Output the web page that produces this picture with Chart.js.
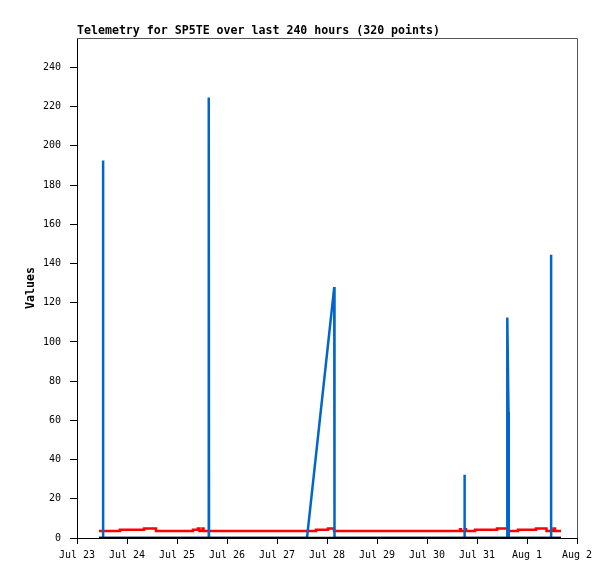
<!DOCTYPE html>
<html>
<head>
<meta charset="utf-8">
<script src="https://cdn.jsdelivr.net/npm/chart.js@4/dist/chart.umd.min.js"></script>
<style>
  body { margin: 0; background: #fff; }
</style>
</head>
<body>
<canvas id="telemetryChart" width="615" height="579"></canvas>
<script>
// x values are days since Jul 23 00:00
const dayLabels = ['Jul 23', 'Jul 24', 'Jul 25', 'Jul 26', 'Jul 27', 'Jul 28',
                   'Jul 29', 'Jul 30', 'Jul 31', 'Aug 1', 'Aug 2'];
const yTicks = [0, 20, 40, 60, 80, 100, 120, 140, 160, 180, 200, 220, 240];

const blueDays   = [0.44, 0.52, 0.52, 0.525, 2.635, 2.635, 2.64, 4.60, 5.145, 5.15,
                    7.75, 7.75, 7.755, 8.606, 8.606, 8.63, 8.635, 9.48, 9.48, 9.485, 9.68];
const blueValues = [0, 0, 192.5, 0, 0, 224.7, 0, 0, 128, 0,
                    0, 32.2, 0, 0, 112.4, 64.2, 0, 0, 144.5, 0, 0];

const redDays   = [0.44, 0.86, 1.34, 1.58, 2.32, 2.42, 2.45, 2.51, 2.53, 4.78, 5.02, 5.14,
                   7.66, 7.68, 7.76, 7.78, 7.96, 8.40, 8.62, 8.82, 9.18, 9.39, 9.53, 9.56, 9.68];
const redValues = [3.6, 4.2, 4.8, 3.6, 4.2, 4.8, 3.6, 4.8, 3.6, 4.2, 4.8, 3.6,
                   4.4, 3.6, 4.4, 3.6, 4.2, 4.8, 3.6, 4.2, 4.8, 3.6, 4.8, 3.6, 3.6];

const zeroDays   = [0.44, 9.68];
const zeroValues = [0, 0];

const toPoints = (xs, ys) => xs.map((x, i) => ({ x: x, y: ys[i] }));

const monoFont = 'DejaVu Sans Mono';

// title + grey top/right frame
const framePlugin = {
    id: 'frame',
    afterDraw(chart) {
        const { ctx, chartArea } = chart;
        ctx.save();
        ctx.strokeStyle = '#555';
        ctx.lineWidth = 1;
        ctx.beginPath();
        ctx.moveTo(chartArea.left, chartArea.top + 0.5);
        ctx.lineTo(chartArea.right + 0.5, chartArea.top + 0.5);
        ctx.lineTo(chartArea.right + 0.5, chartArea.bottom);
        ctx.stroke();
        ctx.fillStyle = '#000';
        ctx.font = 'bold 11.6px "' + monoFont + '"';
        ctx.textAlign = 'left';
        ctx.textBaseline = 'alphabetic';
        ctx.fillText('Telemetry for SP5TE over last 240 hours (320 points)', chartArea.left, chartArea.top - 4);
        ctx.restore();
    }
};

const ctx = document.getElementById('telemetryChart').getContext('2d');
new Chart(ctx, {
    type: 'line',
    data: {
        datasets: [
            {
                data: toPoints(zeroDays, zeroValues),
                borderColor: '#000',
                borderWidth: 2.5,
                pointRadius: 0,
                order: 0
            },
            {
                data: toPoints(blueDays, blueValues),
                borderColor: '#0066cc',
                borderWidth: 2.5,
                borderJoinStyle: 'bevel',
                pointRadius: 0,
                order: 1
            },
            {
                data: toPoints(redDays, redValues),
                borderColor: '#ff0000',
                borderWidth: 2.5,
                stepped: true,
                pointRadius: 0,
                order: 2
            }
        ]
    },
    options: {
        responsive: false,
        animation: false,
        devicePixelRatio: 1,
        layout: { padding: { top: 38, right: 38, bottom: 0, left: 0 } },
        plugins: {
            legend: { display: false },
            tooltip: { enabled: false },
            title: { display: false }
        },
        scales: {
            x: {
                type: 'linear',
                min: 0,
                max: 10,
                afterBuildTicks: s => { s.ticks = dayLabels.map((_, i) => ({ value: i })); },
                afterFit: s => { s.height = 41; },
                ticks: {
                    callback: v => dayLabels[v],
                    autoSkip: false,
                    maxRotation: 0,
                    color: '#000',
                    padding: 5,
                    font: { family: monoFont, size: 10 }
                },
                grid: { drawOnChartArea: false, tickLength: 6, color: '#000' },
                border: { color: '#000', width: 1 }
            },
            y: {
                min: 0,
                max: 255,
                afterBuildTicks: s => { s.ticks = yTicks.map(v => ({ value: v })); },
                afterFit: s => { s.width = 77; },
                ticks: {
                    autoSkip: false,
                    color: '#000',
                    padding: 9,
                    font: { family: monoFont, size: 10 }
                },
                grid: { drawOnChartArea: false, tickLength: 7, color: '#000' },
                border: { color: '#000', width: 1 },
                title: {
                    display: true,
                    text: 'Values',
                    color: '#000',
                    padding: { top: 24, bottom: 0 },
                    font: { family: monoFont, size: 11.6, weight: 'bold' }
                }
            }
        }
    },
    plugins: [framePlugin]
});
</script>
</body>
</html>
